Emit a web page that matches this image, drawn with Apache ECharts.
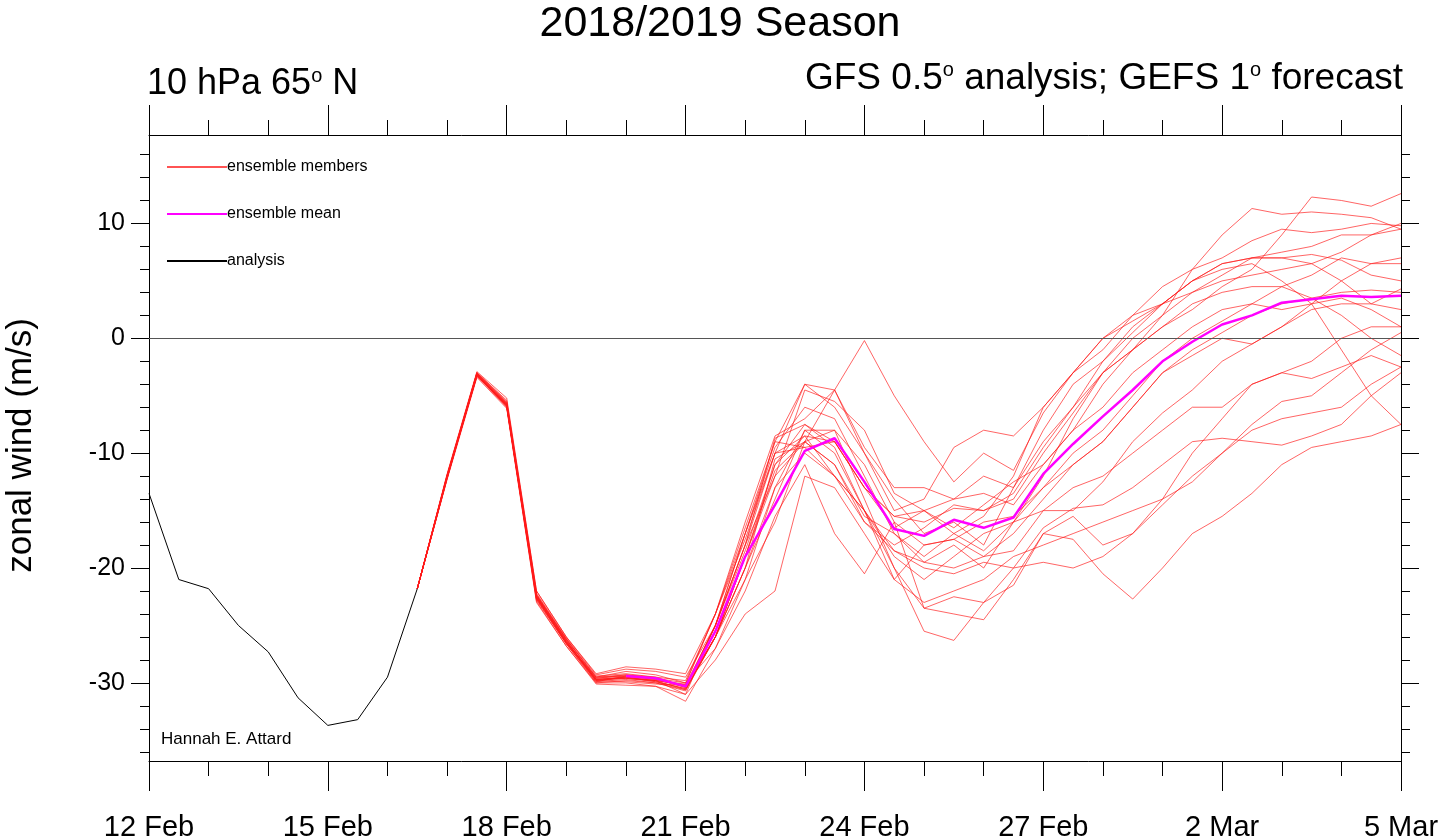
<!DOCTYPE html>
<html>
<head>
<meta charset="utf-8">
<script src="https://cdn.jsdelivr.net/npm/echarts@6/dist/echarts.min.js"></script>
<style>
  html, body { margin: 0; padding: 0; background: #fff; }
  #chart { width: 1440px; height: 838px; }
</style>
</head>
<body>
<div id="chart"></div>
<script>
// days since 12 Feb
let dateLabels = ['12 Feb', '15 Feb', '18 Feb', '21 Feb', '24 Feb', '27 Feb', '2 Mar', '5 Mar']
let analysisDays = [0, 0.5, 1, 1.5, 2, 2.5, 3, 3.5, 4, 4.5]
let analysis = [-13.5, -21, -21.8, -25, -27.3, -31.3, -33.7, -33.2, -29.5, -21.8]

// forecast starts 16.5 Feb, every 12 h
let fcStart = 4.5
// mean is drawn from 20 Feb on (before that it hides under the members)
let meanStart = 7
let ensMean = [-29.4, -29.6, -30.3,
  -25.5, -19, -14.5, -9.8, -8.7, -12.5, -16.6, -17.2, -15.8, -16.5, -15.6, -11.8,
  -9.2, -6.8, -4.5, -2, -0.3, 1.2, 2, 3.1, 3.4, 3.7, 3.6, 3.7]

let members = [
  [-21.8,-12.2,-3.0,-5.5,-22.3,-26.2,-29.5,-29.0,-29.3,-30.0, -24,-17,-9,-4,-6,-10,-15,-14,-9.5,-8,-8.5,-6,-3,0,1.5,3,5,6.5,7,7.5,8,9,9,9.5],
  [-21.8,-11.8,-2.9,-5.2,-22.0,-26.0,-29.2,-28.6,-28.8,-29.2, -24,-16,-8.5,-7,-4.5,-0.2,-5,-9,-12.5,-10,-11.5,-6.5,-3,-1,2,4.5,6,7,8.5,9.5,9.2,9.5,10,9.8],
  [-21.8,-12.0,-3.3,-5.8,-22.6,-26.4,-29.8,-29.5,-29.9,-30.5, -26,-19,-11,-8.5,-9,-13,-15.5,-16,-14.8,-15,-14,-10,-6.5,-3,0,2,4,5.5,7,7,6.5,5,3,2.5],
  [-21.8,-12.1,-3.2,-6.0,-22.8,-26.6,-30.0,-29.8,-30.0,-30.6, -26,-20,-10.5,-9,-8,-11,-16,-18,-17.5,-16,-15.5,-13,-10,-8,-5,-2,0,1.5,3,4.5,5.5,7,6.5,6.5],
  [-21.8,-12.0,-3.1,-5.9,-22.5,-26.5,-29.7,-29.6,-29.8,-31.0, -25,-18,-12,-4.5,-5.5,-8,-13.5,-15,-16.5,-14.5,-12.5,-11,-8,-6,-3,-1,1,2.5,3,2.5,3,3.5,2.5,1],
  [-21.8,-12.3,-3.4,-6.1,-23.0,-26.8,-30.1,-30.2,-30.3,-31.6, -27,-21,-16,-9,-4.5,-9.5,-13,-13,-14,-12,-13,-9,-6,-3,-1,1,3,4,4.5,4.5,3.5,2,0,-1.5],
  [-21.8,-11.9,-3.0,-5.6,-22.2,-26.1,-29.4,-29.2,-29.5,-29.8, -24,-17.5,-10,-8.5,-12,-15,-18.5,-19.5,-18,-20,-16,-13,-11,-9,-6,-3,-1.5,0,-0.5,1,2.5,3,3,4.3],
  [-21.8,-12.2,-3.2,-5.7,-22.4,-26.3,-29.9,-29.4,-29.7,-30.4, -25,-17,-10,-9.5,-12,-15,-21,-18,-17.5,-19,-18.5,-15,-13,-12,-10,-8,-6,-6,-4,-3,-2,0,1,1],
  [-21.8,-12.0,-3.1,-5.9,-22.7,-26.6,-29.8,-29.9,-30.1,-30.2, -26,-20,-14,-8,-8,-14,-20,-23.5,-22.5,-23,-20,-16.5,-14.8,-14.5,-13,-11,-9,-8.7,-9,-9.3,-8.5,-7.5,-5,-3],
  [-21.8,-12.1,-3.2,-5.8,-22.5,-26.5,-29.6,-29.3,-29.6,-30.0, -27,-22,-15.5,-11,-17,-20.5,-16,-23.5,-24,-24.5,-21,-17,-17.5,-20.5,-22.7,-20,-17,-15.5,-13.5,-11,-9.5,-9,-8.5,-7.5],
  [-21.8,-12.0,-3.0,-5.4,-22.0,-26.0,-29.3,-28.8,-29.0,-29.5, -25,-18,-8.7,-7.5,-9.5,-15,-20,-25.5,-26.3,-23,-21.5,-17,-15.5,-18,-17,-14,-10,-7,-4,-3,-3.5,-2.5,-1.5,-2.5],
  [-21.8,-12.2,-3.3,-6.0,-22.9,-26.8,-30.0,-30.0,-30.3,-31.0, -28,-24,-22,-12,-13,-17,-21,-23,-22,-21,-19,-18,-17,-16,-15,-14,-12.5,-10,-8,-7,-6.5,-6,-4,-2.5],
  [-21.8,-11.9,-3.1,-5.7,-22.4,-26.3,-29.7,-29.6,-29.8,-30.2, -26,-19,-11.5,-9,-11,-16,-18.5,-20,-20.5,-19.5,-20,-19.5,-20,-19,-17,-14.5,-12,-10,-7.5,-5.5,-5,-3,-1,0.5],
  [-21.8,-12.1,-3.2,-5.8,-22.6,-26.5,-29.5,-29.3,-29.5,-30.4, -25,-18,-10,-4,-4.5,-10,-14,-17,-16,-18,-13,-8,-4,-2,0.5,3,5,6.5,7,7,7.3,6.8,5.5,5],
  [-21.8,-12.0,-3.2,-5.9,-22.5,-26.4,-29.7,-29.5,-29.8,-30.1, -24,-16.5,-9,-9.5,-9,-13,-16.5,-15,-17,-15.5,-12,-6,-3,0,2,3,4,5,5.5,6,6.5,7.5,9,10],
  [-21.8,-12.1,-3.3,-5.8,-22.7,-26.6,-29.9,-29.7,-30.0,-30.7, -26,-19,-12,-9,-11,-15.5,-17,-19,-17,-18.5,-16,-12,-7,-3,-1,2,6,9,11.3,10.8,11,10.8,10.5,9.5],
  [-21.8,-12.0,-3.1,-5.7,-22.4,-26.2,-29.6,-29.4,-29.7,-30.2, -25,-18.5,-11,-7.5,-9,-13,-15.5,-15,-14,-13.5,-14.5,-11,-8,-4,-1,1,2.5,4.5,6,9,12.3,12,11.5,12.6],
  [-21.8,-12.2,-3.2,-5.9,-22.6,-26.5,-29.8,-29.6,-29.9,-30.5, -26,-20,-13,-10,-12,-16,-18,-16.5,-14.5,-15,-13.5,-9.5,-6,-2,1,3,5,6,6.5,5,3,-1,-5,-7.5],
  [-21.8,-11.9,-3.0,-5.6,-22.3,-26.2,-29.5,-29.4,-29.6,-30.3, -25,-17,-9.5,-6,-7,-12,-17,-19.5,-20,-19,-17,-14,-11,-9,-6,-3,-1,0.5,2,3,3.5,4,4.2,4],
  [-21.8,-12.1,-3.2,-5.8,-22.5,-26.4,-29.7,-29.5,-29.8,-30.6, -26,-21,-13,-8,-10,-15,-19,-21,-19,-17,-16,-15,-15,-12.5,-9,-6.5,-4.5,-2,-0.5,1,3,5,6.5,7]
]

let majorY = [-30, -20, -10, 0, 10]
let minorY = []
for (let v = -36; v <= 16; v += 2) minorY.push(v)

function pts(arr, start) {
  return arr.map((v, i) => [fcStart + (start + i) * 0.5, v])
}

let series = []
members.forEach(m => {
  series.push({
    name: 'ensemble members', type: 'line', data: pts(m, 0), symbol: 'none',
    lineStyle: { color: '#ff1a1a', width: 0.9, opacity: 0.75 }, itemStyle: { color: '#ff1a1a' },
    silent: true, z: 2
  })
})
series.push({
  name: 'ensemble mean', type: 'line', data: pts(ensMean, meanStart), symbol: 'none',
  lineStyle: { color: '#ff00ff', width: 2.5 }, itemStyle: { color: '#ff00ff' }, z: 4
})
series.push({
  name: 'analysis', type: 'line', data: analysis.map((v, i) => [analysisDays[i], v]), symbol: 'none',
  lineStyle: { color: '#000', width: 1 }, itemStyle: { color: '#000' }, z: 3,
  markLine: { silent: true, symbol: 'none', label: { show: false },
    lineStyle: { color: '#555', width: 1, type: 'solid' }, data: [{ yAxis: 0 }] }
})

function yAx(pos, vals, len, labels) {
  return {
    type: 'value', position: pos, min: -36.8, max: 17.7,
    axisLine: { show: true, lineStyle: { color: '#000', width: 1 } },
    axisTick: { show: true, customValues: vals, length: len, lineStyle: { color: '#000' } },
    axisLabel: { show: labels, customValues: vals, fontSize: 25, color: '#000', margin: 24, fontFamily: 'Liberation Sans' },
    splitLine: { show: false }
  }
}
function xAx(pos, labels) {
  return {
    type: 'value', position: pos, min: 0, max: 21, interval: 3,
    axisLine: { show: true, onZero: false, lineStyle: { color: '#000', width: 1 } },
    axisTick: { show: true, length: 30, lineStyle: { color: '#000' } },
    minorTick: { show: true, splitNumber: 3, length: 15, lineStyle: { color: '#000' } },
    axisLabel: { show: labels, fontSize: 29, color: '#000', margin: 52, fontFamily: 'Liberation Sans',
      formatter: v => dateLabels[Math.round(v / 3)] },
    splitLine: { show: false }
  }
}

let option = {
  animation: false,
  grid: { left: 149, right: 39, top: 135, bottom: 77, outerBoundsMode: 'none' },
  title: {
    text: '2018/2019 Season', left: 'center', top: -2,
    textStyle: { fontSize: 43, fontWeight: 'normal', color: '#000', fontFamily: 'Liberation Sans' }
  },
  legend: {
    orient: 'vertical', left: 161, top: 154, itemWidth: 60, itemHeight: 10, itemGap: 31,
    data: ['ensemble members', 'ensemble mean', 'analysis'],
    itemStyle: { opacity: 0 },
    textStyle: { fontSize: 16, color: '#000', padding: [0, 0, 0, -5], fontFamily: 'Liberation Sans' }
  },
  xAxis: [xAx('bottom', true), xAx('top', false)],
  yAxis: [yAx('left', majorY, 18, true), yAx('left', minorY, 9, false),
    yAx('right', majorY, 18, false), yAx('right', minorY, 9, false)],
  series: series,
  graphic: [
    { type: 'text', left: 147, top: 66, style: { text: '10 hPa 65{s|o} N', fontSize: 36, fill: '#000',
      fontFamily: 'Liberation Sans', rich: { s: { fontSize: 20, padding: [0, 0, 16, 0] } } } },
    { type: 'text', right: 37, top: 60, style: { text: 'GFS 0.5{s|o} analysis; GEFS 1{s|o} forecast', fontSize: 37, fill: '#000',
      fontFamily: 'Liberation Sans', rich: { s: { fontSize: 20, padding: [0, 0, 16, 0] } } } },
    { type: 'text', left: 4, top: 318, rotation: Math.PI / 2, style: { text: 'zonal wind (m/s)', fontSize: 35, fill: '#000',
      fontFamily: 'Liberation Sans', align: 'center', verticalAlign: 'middle' } },
    { type: 'text', left: 161, top: 731, style: { text: 'Hannah E. Attard', fontSize: 17, fill: '#000', fontFamily: 'Liberation Sans' } }
  ]
}

let myChart = echarts.init(document.getElementById('chart'))
myChart.setOption(option)
</script>
</body>
</html>
